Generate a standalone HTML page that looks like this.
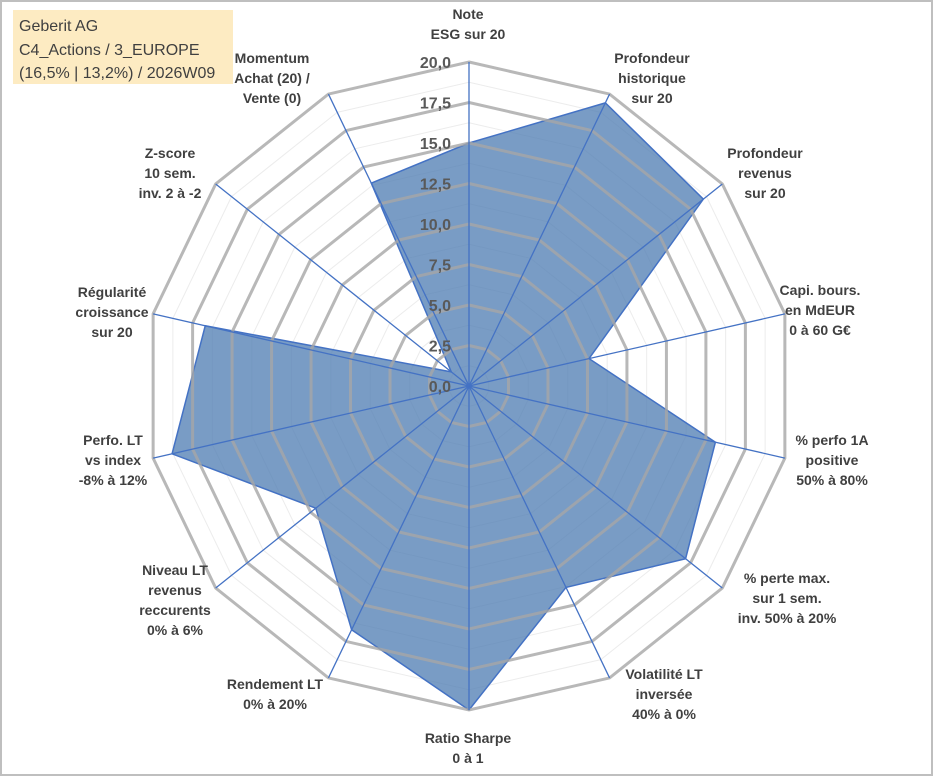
<!DOCTYPE html>
<html><head><meta charset="utf-8"><style>
body{margin:0;background:#fff}
svg{display:block;font-family:"Liberation Sans",Arial,sans-serif}
</style></head><body>
<svg width="933" height="776" viewBox="0 0 933 776">
<rect x="1" y="1" width="931" height="774" fill="#fff" stroke="#bfbfbf" stroke-width="2"/>
<g id="minor"></g>
<g id="fillg"></g>
<g id="grid"></g>
<g id="spokes"></g>
<g id="ticks"></g>
<g id="labels"></g>
<g>
<rect x="13" y="10" width="220" height="74" fill="#fdebc2"/>
<text x="19" y="31" font-size="16" fill="#404040">Geberit AG</text>
<text x="19" y="55" font-size="16" fill="#404040">C4_Actions / 3_EUROPE</text>
<text x="19" y="78" font-size="16" fill="#404040">(16,5% | 13,2%) / 2026W09</text>
</g>
</svg>
<script>
const categories=[["Note","ESG sur 20"],["Profondeur","historique","sur 20"],["Profondeur","revenus","sur 20"],["Capi. bours.","en MdEUR","0 à 60 G€"],["% perfo 1A","positive","50% à 80%"],["% perte max.","sur 1 sem.","inv. 50% à 20%"],["Volatilité LT","inversée","40% à 0%"],["Ratio Sharpe","0 à 1"],["Rendement LT","0% à 20%"],["Niveau LT","revenus","reccurents","0% à 6%"],["Perfo. LT","vs index","-8% à 12%"],["Régularité","croissance","sur 20"],["Z-score","10 sem.","inv. 2 à -2"],["Momentum","Achat (20) /","Vente (0)"]];
const values=[15.0,19.4,18.5,7.6,15.6,17.1,13.8,20.0,16.7,12.1,18.8,16.7,1.4,13.9];
const tickLabels=["0,0","2,5","5,0","7,5","10,0","12,5","15,0","17,5","20,0"];
const labelPos=[[468,14],[652,58],[765,153],[820,290],[832,440],[787,578],[664,674],[468,738],[275,684],[175,570],[113,440],[112,292],[170,153],[272,58]];
const NS="http://www.w3.org/2000/svg";
const cx=469,cy=386,R=324,maxV=20,n=categories.length;
function pt(i,v){const a=2*Math.PI*i/n;const r=v/maxV*R;return [cx+r*Math.sin(a),cy-r*Math.cos(a)];}
function mk(t,attrs,parent){const e=document.createElementNS(NS,t);for(const k in attrs)e.setAttribute(k,attrs[k]);document.getElementById(parent).appendChild(e);return e;}
for(let k=1;k<=16;k++){const v=k*1.25;const pts=categories.map((c,i)=>pt(i,v).join(",")).join(" ");
 if(k%2===1){const e=mk("polygon",{points:pts,fill:"none",stroke:"#ececec","stroke-width":1},"minor");

}}
const ap=values.map((v,i)=>pt(i,v).join(",")).join(" ");
const area=mk("polygon",{points:ap,fill:"#4f7db3","fill-opacity":0.76,stroke:"#4472c4","stroke-width":1.5},"fillg");


tickLabels.forEach((t,k)=>{if(k===0)return;const v=k*2.5;const pts=categories.map((c,i)=>pt(i,v).join(",")).join(" ");
 const e=mk("polygon",{points:pts,fill:"none",stroke:"#a6a6a6","stroke-opacity":0.8,"stroke-width":3},"grid");

});
categories.forEach((c,i)=>{const p=pt(i,maxV);const e=mk("line",{x1:cx,y1:cy,x2:p[0],y2:p[1],stroke:"#4472c4","stroke-width":1.3},"spokes");

});
tickLabels.forEach((t,k)=>{const y=cy-k*2.5/maxV*R;const e=mk("text",{x:451,y:y+6,"text-anchor":"end","font-size":16,"font-weight":"bold",fill:"#595959"},"ticks");e.textContent=t;

});
categories.forEach((c,i)=>{const [x,y]=labelPos[i];const e=mk("text",{x:x,y:y+5,"text-anchor":"middle","font-size":14,"font-weight":"bold",fill:"#404040"},"labels");


c.forEach((l,j)=>{const s=document.createElementNS(NS,"tspan");s.setAttribute("x",x);s.setAttribute("y",y+5+j*20);s.textContent=l;e.appendChild(s);});});
</script>
</body></html>
